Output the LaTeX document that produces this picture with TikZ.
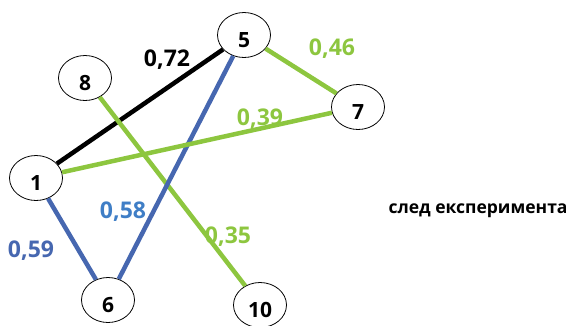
\documentclass[tikz,border=0pt]{standalone}
\usepackage{fontspec}
\setmainfont{Open Sans}
\usepackage{tikz}
\usetikzlibrary{shapes.geometric,positioning}
\definecolor{edgegreen}{HTML}{8DC63F}
\definecolor{edgeblue}{HTML}{4667B0}
\definecolor{lightblue}{HTML}{3F7EC6}
\begin{document}
\begin{tikzpicture}[x=1pt,y=-1pt]

\tikzset{
  vertex/.style={ellipse, draw=black, line width=0.8pt, fill=white,
                 font=\fontsize{21}{21}\selectfont\bfseries,
                 minimum width=53pt, minimum height=45pt, inner sep=0pt,
                 text height=24pt, text depth=0pt},
  weight/.style={font=\fontsize{23}{23}\selectfont\bfseries, inner sep=0pt},
  link/.style={line width=4.5pt}
}

% Frame
\useasboundingbox (0,0) rectangle (569,325);

% Vertices
\node[vertex] (v1)  at (36, 178) {1};
\node[vertex] (v5)  at (244, 35) {5};
\node[vertex] (v6)  at (108, 300) {6};
\node[vertex] (v7)  at (358, 107) {7};
\node[vertex] (v8)  at (85, 78) {8};
\node[vertex] (v10) at (260, 305) {10};

% Edges
\draw[link, black] (v1) -- (v5);
\draw[link, edgegreen] (v8) -- (v10);
\draw[link, edgeblue] (v5) -- (v6);
\draw[link, edgeblue] (v1) -- (v6);
\draw[link, edgegreen] (v1) -- (v7);
\draw[link, edgegreen] (v5) -- (v7);

% Weights
\node[weight, black]     (w15)  at (167, 60)  {0,72};
\node[weight, edgegreen] (w57)  at (332, 49)  {0,46};
\node[weight, edgegreen] (w17)  at (260, 119) {0,39};
\node[weight, lightblue] (w56)  at (123, 212) {0,58};
\node[weight, edgeblue]  (w16)  at (31, 251)  {0,59};
\node[weight, edgegreen] (w810) at (228, 237) {0,35};

% Caption
\node[font=\fontsize{17.5}{17.5}\selectfont\bfseries, inner sep=0pt] (caption) at (478, 211) {след експеримента};

\end{tikzpicture}
\end{document}
